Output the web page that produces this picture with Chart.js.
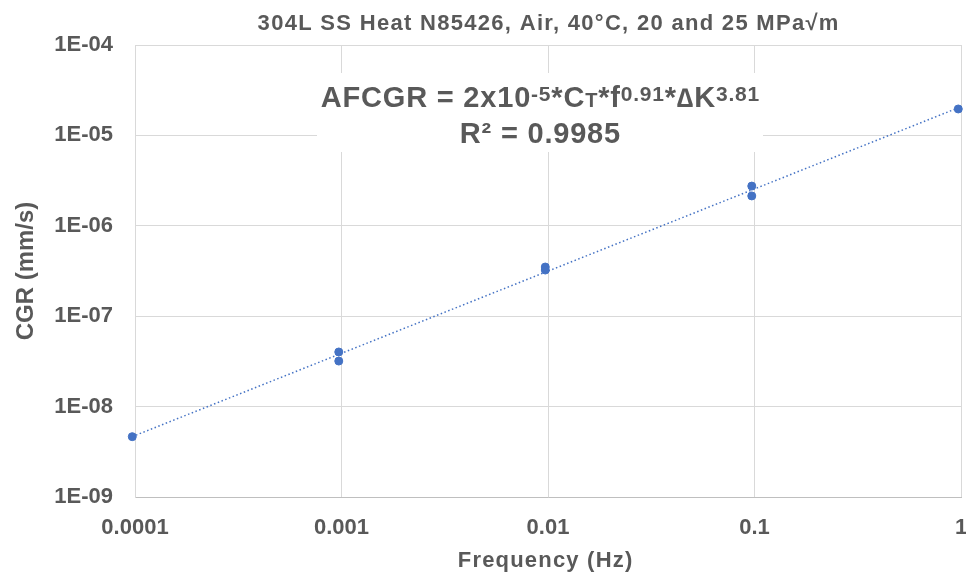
<!DOCTYPE html>
<html>
<head>
<meta charset="utf-8">
<script src="https://cdn.jsdelivr.net/npm/chart.js@4/dist/chart.umd.min.js"></script>
<style>
html,body{margin:0;padding:0;background:#fff;}
#wrap{width:966px;height:572px;position:relative;}
</style>
</head>
<body>
<div id="wrap"><canvas id="c"></canvas></div>
<script>
// ---- data ----
const frequency = [0.000097, 0.00097, 0.00097, 0.0097, 0.0097, 0.097, 0.097, 0.97];
const cgr = [4.65e-9, 4.02e-8, 3.19e-8, 3.50e-7, 3.24e-7, 2.75e-6, 2.14e-6, 1.96e-5];
const xTickValues = [0.0001, 0.001, 0.01, 0.1, 1];
const xTickLabels = ['0.0001', '0.001', '0.01', '0.1', '1'];
const yTickValues = [1e-9, 1e-8, 1e-7, 1e-6, 1e-5, 1e-4];
const yTickLabels = ['1E-09', '1E-08', '1E-07', '1E-06', '1E-05', '1E-04'];
const titleText = '304L SS Heat N85426, Air, 40°C, 20 and 25 MPa√m';
const xTitle = 'Frequency (Hz)';
const yTitle = 'CGR (mm/s)';
const eqLine1 = [
  {t:'AFCGR = 2x10', s:'n'}, {t:'-5', s:'sup'}, {t:'*C', s:'n'}, {t:'T', s:'sub'},
  {t:'*f', s:'n'}, {t:'0.91', s:'sup'}, {t:'*', s:'n'}, {t:'\u2206', s:'sym'}, {t:'K', s:'n'}, {t:'3.81', s:'sup'}
];
const eqLine2 = 'R² = 0.9985';

// power-law trendline from least squares in log-log space
const lx = frequency.map(Math.log10), ly = cgr.map(Math.log10);
const n = lx.length;
const mx = lx.reduce((a,b)=>a+b,0)/n, my = ly.reduce((a,b)=>a+b,0)/n;
let sxy=0, sxx=0;
for(let i=0;i<n;i++){ sxy += (lx[i]-mx)*(ly[i]-my); sxx += (lx[i]-mx)**2; }
const slope = sxy/sxx, icpt = my - slope*mx;
const xMinD = Math.min(...frequency), xMaxD = Math.max(...frequency);
const trend = [xMinD, xMaxD].map(x => ({x, y: Math.pow(10, icpt + slope*Math.log10(x))}));

const grey = '#595959';
const FONT = "'Liberation Sans', Arial, sans-serif";

function spacedText(ctx, text, x, y, font, spacing){
  ctx.font = font;
  ctx.letterSpacing = spacing + 'px';
  const w = ctx.measureText(text).width - spacing;
  ctx.textAlign = 'left';
  ctx.fillText(text, x - w/2, y);
  ctx.letterSpacing = '0px';
}

const textPlugin = {
  id: 'texts',
  afterDraw(chart){
    const ctx = chart.ctx, a = chart.chartArea;
    const cx = (a.left + a.right)/2;
    ctx.save();
    ctx.fillStyle = grey;
    ctx.textBaseline = 'alphabetic';
    spacedText(ctx, titleText, cx, 30, "bold 22px " + FONT, 1.3);
    spacedText(ctx, xTitle, cx - 3, 567, "bold 22px " + FONT, 1.2);
    ctx.restore();
  },
  afterDatasetsDraw(chart){
    const ctx = chart.ctx, a = chart.chartArea;
    ctx.save();
    ctx.fillStyle = '#fff';
    ctx.fillRect(a.left + 182, a.top + 28, 446, 79);
    const cx = a.left + 405;
    const sp = 0.8;
    const big = "bold 29px " + FONT, small = "bold 21px " + FONT, sub = "bold 20px " + FONT, sym = "bold 27px " + FONT;
    const fontFor = s => s==='n' ? big : (s==='sym' ? sym : (s==='sub' ? sub : small));
    ctx.letterSpacing = sp + 'px';
    let w = 0;
    for(const seg of eqLine1){ ctx.font = fontFor(seg.s); w += ctx.measureText(seg.t).width; }
    w -= sp;
    let x = cx - w/2;
    const base1 = a.top + 62;
    ctx.fillStyle = grey;
    ctx.textBaseline = 'alphabetic';
    ctx.textAlign = 'left';
    for(const seg of eqLine1){
      ctx.font = fontFor(seg.s);
      let y = base1;
      if(seg.s==='sup') y = base1 - 6;
      ctx.fillText(seg.t, x, y);
      x += ctx.measureText(seg.t).width;
    }
    ctx.letterSpacing = '0px';
    spacedText(ctx, eqLine2, cx, a.top + 98, big, sp);
    ctx.restore();
  }
};

new Chart(document.getElementById('c'), {
  type: 'scatter',
  data: {
    datasets: [
      {
        label: 'CGR',
        data: frequency.map((f,i)=>({x:f, y:cgr[i]})),
        backgroundColor: '#4472c4',
        borderColor: '#4472c4',
        pointRadius: 4,
        pointHoverRadius: 4,
        clip: false,
        order: 1
      },
      {
        label: 'Trend',
        type: 'line',
        data: trend,
        borderColor: '#4472c4',
        borderWidth: 1.5,
        borderDash: [1.5, 2.5],
        pointRadius: 0,
        fill: false,
        clip: false,
        order: 2
      }
    ]
  },
  options: {
    responsive: true,
    maintainAspectRatio: false,
    animation: false,
    events: [],
    layout: { padding: { left: 0, right: 5, top: 45, bottom: 0 } },
    plugins: {
      legend: { display: false },
      tooltip: { enabled: false },
      title: { display: false }
    },
    scales: {
      x: {
        type: 'logarithmic',
        min: 0.0001, max: 1,
        afterBuildTicks: s => { s.ticks = xTickValues.map(v => ({value: v})); },
        afterFit: s => { s.height = 75; s.paddingLeft = 0; s.paddingRight = 0; },
        ticks: {
          color: grey,
          font: { family: FONT, size: 22, weight: 'bold' },
          padding: 18,
          maxRotation: 0,
          autoSkip: false,
          callback: (v) => { const i = xTickValues.indexOf(v); return i >= 0 ? xTickLabels[i] : ''; }
        },
        grid: { color: '#d9d9d9', lineWidth: 1, drawTicks: false },
        border: { color: '#bfbfbf' },
        title: { display: false }
      },
      y: {
        type: 'logarithmic',
        min: 1e-9, max: 1e-4,
        afterBuildTicks: s => { s.ticks = yTickValues.map(v => ({value: v})); },
        afterFit: s => { s.width = 135; s.paddingTop = 0; s.paddingBottom = 0; },
        ticks: {
          color: grey,
          font: { family: FONT, size: 22, weight: 'bold' },
          padding: 22,
          autoSkip: false,
          callback: (v) => { const i = yTickValues.findIndex(t => Math.abs(Math.log10(t) - Math.log10(v)) < 1e-6); return i >= 0 ? yTickLabels[i] : ''; }
        },
        grid: { color: '#d9d9d9', lineWidth: 1, drawTicks: false },
        border: { color: '#d9d9d9' },
        title: {
          display: true, text: yTitle, color: grey,
          font: { family: FONT, size: 24, weight: 'bold' },
          padding: { top: 12, bottom: 0 }
        }
      }
    }
  },
  plugins: [textPlugin]
});
</script>
</body>
</html>
